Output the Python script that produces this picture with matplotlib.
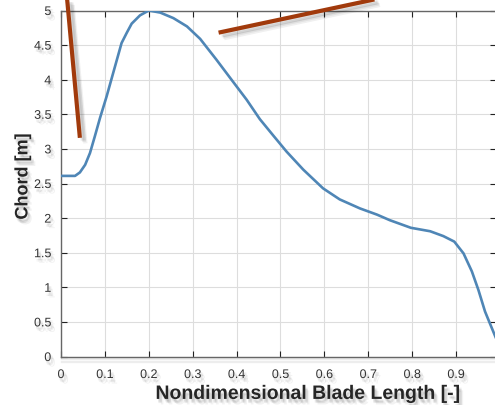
import matplotlib
matplotlib.use('Agg')
import matplotlib.pyplot as plt
import matplotlib.patheffects as pe

# chord distribution
blade_pos = [0.0, 0.032, 0.043, 0.055, 0.066, 0.077, 0.089, 0.104, 0.119, 0.138,
             0.15, 0.161, 0.18, 0.2, 0.226, 0.256, 0.287, 0.317, 0.354, 0.392,
             0.423, 0.453, 0.484, 0.514, 0.552, 0.597, 0.635, 0.681, 0.72, 0.749,
             0.797, 0.841, 0.871, 0.896, 0.917, 0.936, 0.951, 0.966, 0.977, 0.99]
chord = [2.61, 2.61, 2.66, 2.77, 2.94, 3.18, 3.45, 3.76, 4.10, 4.53,
         4.68, 4.81, 4.93, 5.0, 4.97, 4.89, 4.77, 4.59, 4.29, 3.97,
         3.71, 3.43, 3.19, 2.96, 2.70, 2.43, 2.27, 2.14, 2.05, 1.97,
         1.86, 1.81, 1.74, 1.66, 1.49, 1.23, 0.96, 0.65, 0.48, 0.28]

# the two red strokes lying over the plot
red_a_x = [0.014, 0.043]
red_a_y = [5.16, 3.16]
red_b_x = [0.359, 0.714]
red_b_y = [4.68, 5.16]

x_ticks = [0, 0.1, 0.2, 0.3, 0.4, 0.5, 0.6, 0.7, 0.8, 0.9]
y_ticks = [0, 0.5, 1, 1.5, 2, 2.5, 3, 3.5, 4, 4.5, 5]
x_labels = ['0', '0.1', '0.2', '0.3', '0.4', '0.5', '0.6', '0.7', '0.8', '0.9']
y_labels = ['0', '0.5', '1', '1.5', '2', '2.5', '3', '3.5', '4', '4.5', '5']

plt.rcParams['font.family'] = ['Liberation Sans', 'DejaVu Sans']


def soft_shadow(alpha, offsets):
    # stack a few faint offset copies to fake a blurred drop shadow
    effects = [pe.SimplePatchShadow(offset=o, shadow_rgbFace='black', alpha=alpha) for o in offsets]
    return effects + [pe.Normal()]


def soft_line_shadow(alpha, offsets):
    effects = [pe.SimpleLineShadow(offset=o, shadow_color='black', alpha=alpha) for o in offsets]
    return effects + [pe.Normal()]


text_shadow = soft_shadow(0.05, [(1, -2), (2, -3), (3, -4), (2, -2), (1, -3)])
line_shadow = soft_line_shadow(0.06, [(2, -2), (3, -3), (4, -4), (3, -2)])

fig = plt.figure(figsize=(4.95, 4.05), dpi=100)
ax = fig.add_axes([61 / 495, 48.5 / 405, 435 / 495, 346 / 405])

ax.plot(blade_pos, chord, color='#4f86b6', lw=1.9, zorder=3)
for xs, ys in [(red_a_x, red_a_y), (red_b_x, red_b_y)]:
    ax.plot(xs, ys, color='#a13a0c', lw=3.0, solid_capstyle='butt',
            clip_on=False, zorder=5, path_effects=line_shadow)

ax.set_xlim(0, 0.991)
ax.set_ylim(0, 5)
ax.set_xticks(x_ticks)
ax.set_yticks(y_ticks)
ax.set_xticklabels(x_labels)
ax.set_yticklabels(y_labels)
ax.tick_params(direction='in', length=4, width=0.8, color='#222222',
               labelsize=9, labelcolor='#333333', top=True, right=True)
ax.tick_params(axis='x', pad=9)
ax.tick_params(axis='y', pad=7)
for lab in ax.get_xticklabels() + ax.get_yticklabels():
    lab.set_path_effects(text_shadow)
ax.grid(True, color='#dddddd', lw=0.8)
ax.set_axisbelow(True)
for side in ax.spines.values():
    side.set_color('#666666')
    side.set_linewidth(1.0)
ax.spines['bottom'].set_path_effects(soft_line_shadow(0.06, [(0, -1), (0, -2), (0, -3), (0, -4)]))

ax.set_xlabel('Nondimensional Blade Length [-]', fontsize=14, fontweight='bold',
              color='#262626', path_effects=text_shadow)
ax.set_ylabel('Chord [m]', fontsize=13, fontweight='bold',
              color='#262626', path_effects=text_shadow)
ax.xaxis.set_label_coords(0.568, -0.085)
ax.yaxis.set_label_coords(-0.068, 0.52)

fig.savefig('out.png', dpi=100)
